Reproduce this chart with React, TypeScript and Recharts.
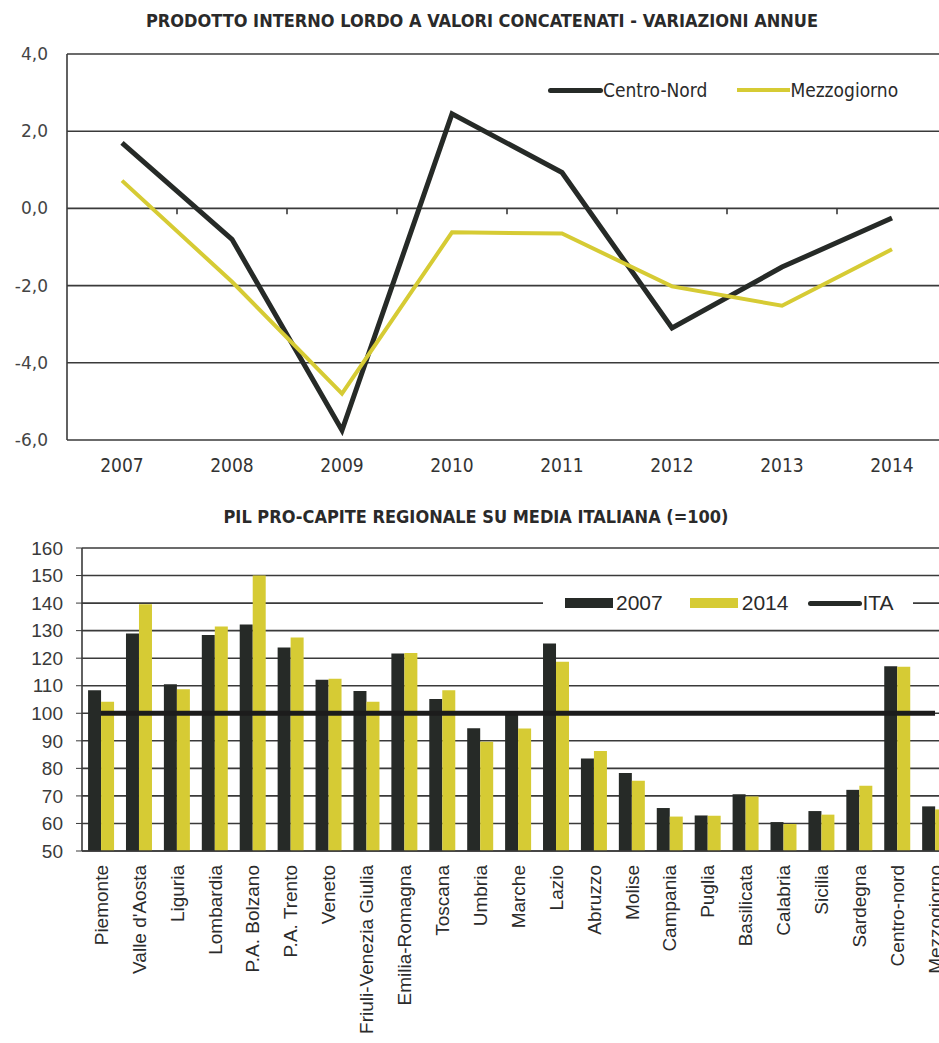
import React from 'react';
import {
  LineChart,
  Line,
  ComposedChart,
  Bar,
  XAxis,
  YAxis,
  CartesianGrid,
  ReferenceLine
} from 'recharts';

// --- top chart: GDP chained values, yearly change
const years = [2007, 2008, 2009, 2010, 2011, 2012, 2013, 2014];
const centroNord = [1.7, -0.8, -5.75, 2.45, 0.93, -3.1, -1.52, -0.25];
const mezzogiorno = [0.72, -1.9, -4.8, -0.62, -0.65, -2.02, -2.52, -1.06];
const pilTicks = [-6, -4, -2, 0, 2, 4];

// --- bottom chart: regional per-capita GDP vs Italy (=100)
const regions = [
  'Piemonte', "Valle d'Aosta", 'Liguria', 'Lombardia', 'P.A. Bolzano', 'P.A. Trento',
  'Veneto', 'Friuli-Venezia Giulia', 'Emilia-Romagna', 'Toscana', 'Umbria', 'Marche',
  'Lazio', 'Abruzzo', 'Molise', 'Campania', 'Puglia', 'Basilicata', 'Calabria',
  'Sicilia', 'Sardegna', 'Centro-nord', 'Mezzogiorno'
];
const pc2007 = [108.4, 129.0, 110.5, 128.4, 132.2, 123.9, 112.2, 108.1, 121.7, 105.2, 94.6, 100.0,
  125.3, 83.6, 78.3, 65.6, 62.9, 70.6, 60.5, 64.5, 72.2, 117.1, 66.2];
const pc2014 = [104.2, 139.6, 108.7, 131.5, 150.0, 127.5, 112.5, 104.2, 121.9, 108.4, 89.7, 94.5,
  118.7, 86.3, 75.5, 62.5, 62.8, 69.8, 59.8, 63.2, 73.7, 116.9, 65.1];
const italia = 100;
const pcTicks = [50, 60, 70, 80, 90, 100, 110, 120, 130, 140, 150, 160];

const DARK = '#262a27';
const YELLOW = '#d6cb34';
const GRID = '#3a3a3a';
const COND = '"DejaVu Sans Condensed", "DejaVu Sans", sans-serif';
const SANS = '"Liberation Sans", Arial, sans-serif';

const pilData = years.map((y, i) => ({ year: y, cn: centroNord[i], mz: mezzogiorno[i] }));
const pcData = regions.map((r, i) => ({ region: r, y2007: pc2007[i], y2014: pc2014[i], ita: italia }));

const fmtComma = (v: number) => v.toFixed(1).replace('.', ',');

const PilLegend = () => (
  <div style={{
    position: 'absolute', left: 548, top: 79,
    display: 'flex', alignItems: 'center', fontFamily: COND, fontSize: 19, color: '#2a2a2a'
  }}>
    <span style={{ display: 'inline-block', width: 55, height: 5, background: DARK, borderRadius: 3 }} />
    <span style={{ marginRight: 30 }}>Centro-Nord</span>
    <span style={{ display: 'inline-block', width: 53, height: 4, background: YELLOW }} />
    <span>Mezzogiorno</span>
  </div>
);

const PcLegend = () => (
  <div style={{
    position: 'absolute', left: 543, top: 590,
    display: 'flex', alignItems: 'center', background: '#fff', width: 370, height: 26,
    fontFamily: SANS, fontSize: 21, color: '#2a2a2a', paddingLeft: 22, boxSizing: 'border-box'
  }}>
    <span style={{ display: 'inline-block', width: 48, height: 10, background: DARK, marginRight: 3 }} />
    <span style={{ marginRight: 27 }}>2007</span>
    <span style={{ display: 'inline-block', width: 48, height: 10, background: YELLOW, marginRight: 4 }} />
    <span style={{ marginRight: 20 }}>2014</span>
    <span style={{ display: 'inline-block', width: 54, height: 5, background: DARK, borderRadius: 3 }} />
    <span>ITA</span>
  </div>
);

const RegionTick = (props: any) => {
  const { x, y, payload } = props;
  const ty = y + 12;
  return (
    <text
      x={x}
      y={ty}
      dy="0.36em"
      transform={`rotate(-90, ${x}, ${ty})`}
      textAnchor="end"
      fontFamily={SANS}
      fontSize={19}
      fill="#2b2b2b"
    >
      {payload.value}
    </text>
  );
};

const titleStyle: React.CSSProperties = {
  position: 'absolute',
  left: 0,
  width: 964,
  textAlign: 'center',
  fontFamily: COND,
  fontWeight: 'bold',
  fontSize: 18,
  color: '#2a2a2a',
  whiteSpace: 'nowrap'
};

export default function App() {
  return (
    <div style={{ position: 'absolute', left: 0, top: 0, width: 939, height: 1043, overflow: 'hidden', background: '#fff' }}>
      <div style={{ ...titleStyle, top: 10 }}>
        PRODOTTO INTERNO LORDO A VALORI CONCATENATI - VARIAZIONI ANNUE
      </div>
      <div style={{ position: 'absolute', left: 0, top: 0 }}>
        <LineChart width={960} height={500} data={pilData} margin={{ top: 54, right: 13, left: 0, bottom: 20 }}>
          <CartesianGrid vertical={false} stroke={GRID} strokeWidth={1.6} />
          <XAxis
            dataKey="year"
            type="number"
            domain={[2006.5, 2014.5]}
            ticks={years}
            interval={0}
            axisLine={false}
            tickLine={false}
            tickSize={0}
            tickMargin={19}
            height={40}
            tick={{ fontFamily: COND, fontSize: 19, fill: '#333' }}
          />
          <YAxis
            domain={[-6, 4]}
            ticks={pilTicks}
            interval={0}
            width={67}
            tickFormatter={fmtComma}
            axisLine={{ stroke: GRID, strokeWidth: 1.6 }}
            tickLine={false}
            tickSize={0}
            tickMargin={19}
            tick={{ fontFamily: '"DejaVu Sans", sans-serif', fontSize: 17, fill: '#444' }}
          />
          {years.slice(0, -1).map(y => (
            <ReferenceLine
              key={y}
              segment={[{ x: y + 0.5, y: 0 }, { x: y + 0.5, y: -0.15 }]}
              stroke={GRID}
              strokeWidth={1.6}
            />
          ))}
          <Line dataKey="cn" name="Centro-Nord" stroke={DARK} strokeWidth={5} dot={false} isAnimationActive={false} />
          <Line dataKey="mz" name="Mezzogiorno" stroke={YELLOW} strokeWidth={4} dot={false} isAnimationActive={false} />
        </LineChart>
      </div>
      <PilLegend />

      <div style={{ ...titleStyle, top: 506, width: 952 }}>
        PIL PRO-CAPITE REGIONALE SU MEDIA ITALIANA (=100)
      </div>
      <div style={{ position: 'absolute', left: 0, top: 530 }}>
        <ComposedChart
          width={970}
          height={513}
          data={pcData}
          margin={{ top: 18, right: 16, left: 0, bottom: 0 }}
          barCategoryGap="16%"
          barGap={0}
        >
          <CartesianGrid vertical={false} stroke={GRID} strokeWidth={1.6} />
          <XAxis
            dataKey="region"
            interval={0}
            height={192}
            axisLine={{ stroke: GRID, strokeWidth: 1.6 }}
            tickLine={false}
            tickSize={0}
            tick={<RegionTick />}
          />
          <YAxis
            domain={[50, 160]}
            ticks={pcTicks}
            interval={0}
            width={82}
            axisLine={{ stroke: GRID, strokeWidth: 1.6 }}
            tickLine={{ stroke: GRID }}
            tickSize={6}
            tickMargin={13}
            tick={{ fontFamily: SANS, fontSize: 19, fill: '#3a3a3a' }}
          />
          <Bar dataKey="y2007" name="2007" fill={DARK} isAnimationActive={false} />
          <Bar dataKey="y2014" name="2014" fill={YELLOW} isAnimationActive={false} />
          <Line dataKey="ita" name="ITA" stroke="#1c1c1c" strokeWidth={5} dot={false} isAnimationActive={false} />
        </ComposedChart>
      </div>
      <PcLegend />
    </div>
  );
}
